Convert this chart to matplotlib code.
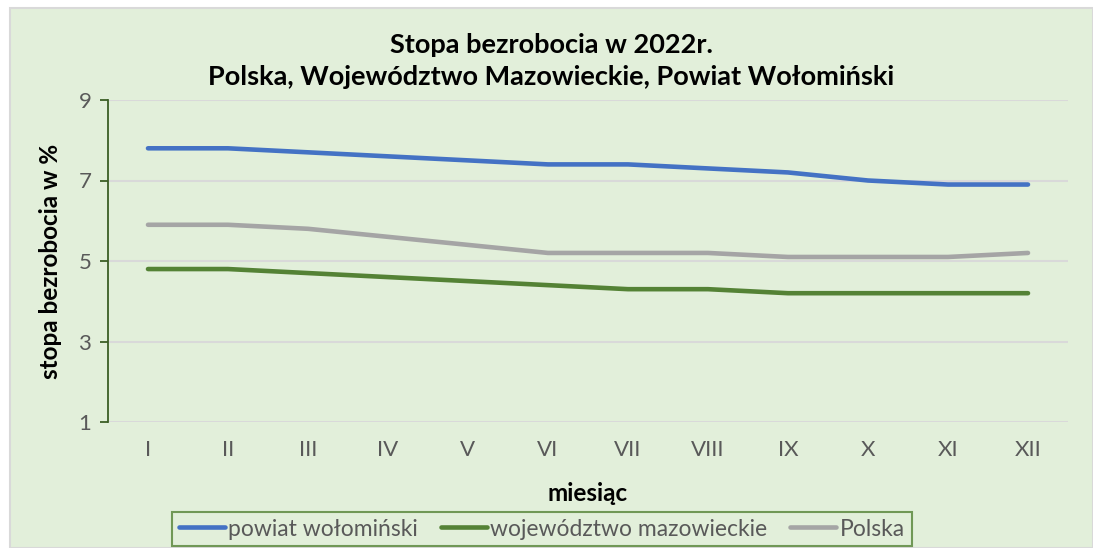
import numpy as np
import matplotlib.pyplot as plt
from matplotlib.patches import Rectangle

plt.rcParams['font.family'] = ['Lato', 'DejaVu Sans']

# dane
months = ['I', 'II', 'III', 'IV', 'V', 'VI', 'VII', 'VIII', 'IX', 'X', 'XI', 'XII']
powiat = [7.8, 7.8, 7.7, 7.6, 7.5, 7.4, 7.4, 7.3, 7.2, 7.0, 6.9, 6.9]
wojewodztwo = [4.8, 4.8, 4.7, 4.6, 4.5, 4.4, 4.3, 4.3, 4.2, 4.2, 4.2, 4.2]
polska = [5.9, 5.9, 5.8, 5.6, 5.4, 5.2, 5.2, 5.2, 5.1, 5.1, 5.1, 5.2]
yticks = [1, 3, 5, 7, 9]

bg = '#E2EFDA'
dark_green = '#3B5E25'

fig = plt.figure(figsize=(10.93, 5.48), dpi=100)
fig.patch.set_facecolor('white')
fig.patches.append(Rectangle((10/1093, 0), 1 - 10/1093, 1 - 8/548, transform=fig.transFigure,
                             facecolor=bg, edgecolor='#D9D9D9', linewidth=1.5, zorder=-10))

ax = fig.add_axes([108/1093, 1 - 422/548, 960/1093, 322/548])
ax.set_facecolor(bg)
ax.patch.set_alpha(0)

x = np.arange(len(months))
ax.plot(x, powiat, color='#4472C4', lw=3.3, solid_capstyle='round', label='powiat wołomiński', zorder=3)
ax.plot(x, wojewodztwo, color='#548235', lw=3.3, solid_capstyle='round', label='województwo mazowieckie', zorder=3)
ax.plot(x, polska, color='#A5A5A5', lw=3.3, solid_capstyle='round', label='Polska', zorder=3)

ax.set_xlim(-0.5, 11.5)
ax.set_ylim(1, 9)
ax.set_yticks(yticks)
ax.set_xticks(x)
ax.set_xticklabels(months)
ax.grid(axis='y', color='#D9D9D9', lw=1.5)
ax.set_axisbelow(True)
for s in ['top', 'right', 'bottom']:
    ax.spines[s].set_visible(False)
ax.spines['left'].set_color(dark_green)
ax.spines['left'].set_linewidth(1.3)
ax.tick_params(axis='y', colors=dark_green, length=6, width=1.3, labelsize=16, labelcolor='#595959', pad=6)
ax.tick_params(axis='x', length=0, labelsize=16, labelcolor='#595959', pad=13)

ax.set_ylabel('stopa bezrobocia w %', fontsize=17.5, fontweight='bold', labelpad=12)
ax.set_xlabel('miesiąc', fontsize=17.5, fontweight='bold', labelpad=16)

fig.text(551/1093, 1 - 45/548, 'Stopa bezrobocia w 2022r.', ha='center', va='center',
         fontsize=19.5, fontweight='bold')
fig.text(551/1093, 1 - 77/548, 'Polska, Województwo Mazowieckie, Powiat Wołomiński', ha='center', va='center',
         fontsize=19.5, fontweight='bold')

leg = fig.legend(loc='center', bbox_to_anchor=(542/1093, 1 - 529/548), ncol=3, frameon=True,
                 fontsize=16.5, handlelength=2.0, handletextpad=0.15, columnspacing=1.0,
                 fancybox=False, borderpad=0.3)
leg.get_frame().set_edgecolor('#548235')
leg.get_frame().set_linewidth(1.5)
leg.get_frame().set_facecolor(bg)
for t in leg.get_texts():
    t.set_color('#595959')

fig.savefig('out.png', dpi=100, facecolor=fig.get_facecolor())
